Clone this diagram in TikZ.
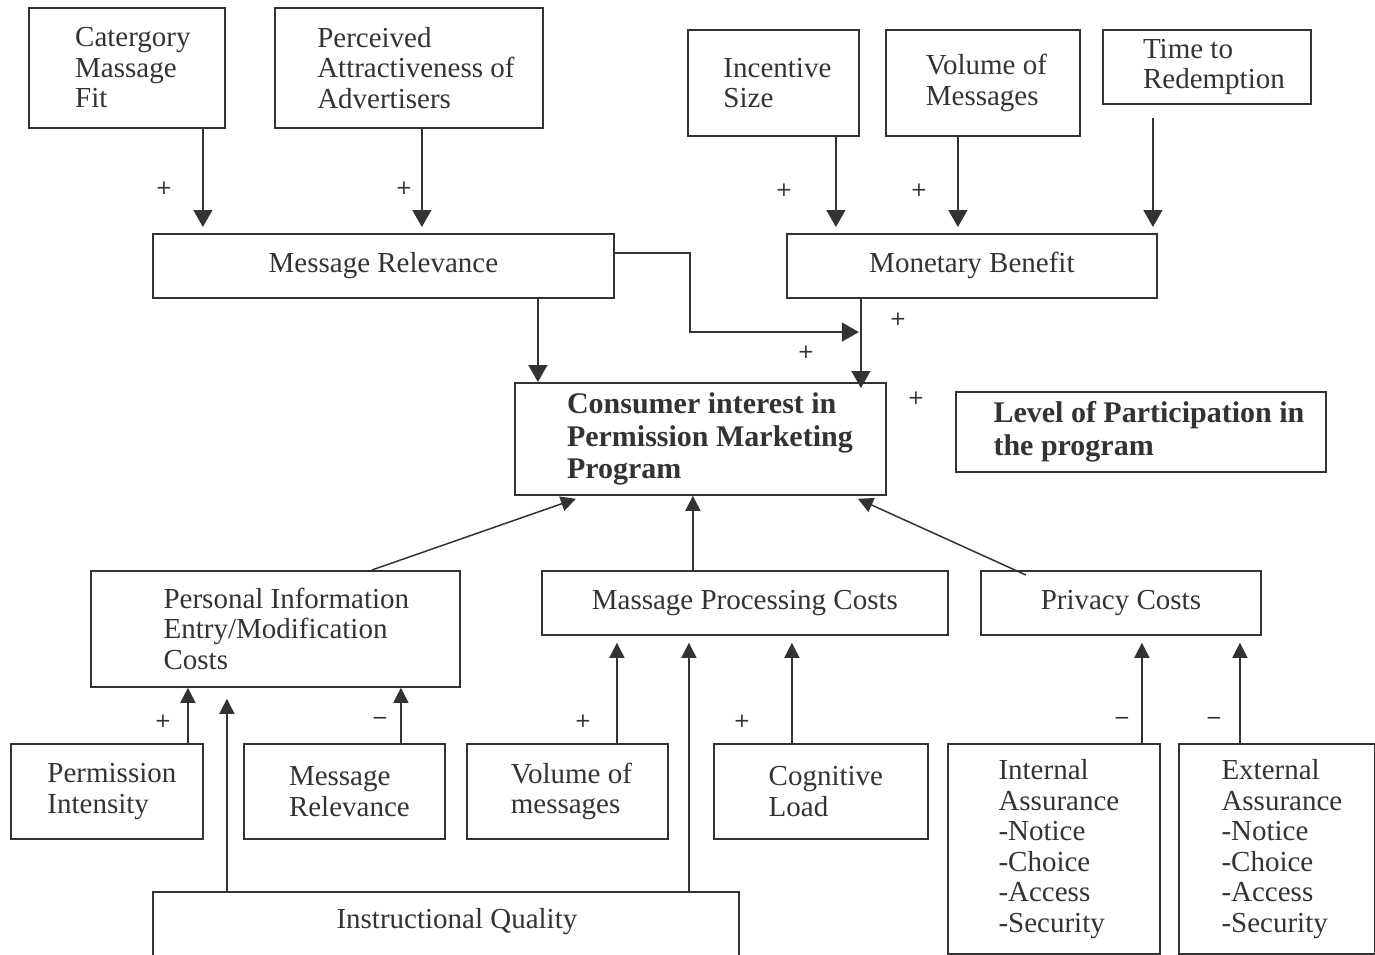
\documentclass[tikz,border=0pt]{standalone}
\usepackage{fontspec}
\setmainfont{Liberation Serif}
\newfontfamily\signfont{DejaVu Sans}
\usepackage{xcolor}
\usepackage{tikz}
\usetikzlibrary{arrows.meta,positioning}
\definecolor{ink}{HTML}{333333}
% indent of one text line inside its box
\newcommand{\ind}[1]{\hspace*{#1pt}}

\begin{document}
\begin{tikzpicture}[
    x=1pt, y=-1pt,
    box/.style={rectangle, draw=ink, line width=1.8pt, text=ink, align=left, anchor=north west, inner sep=0pt, font=\fontsize{29}{30.5}\selectfont},
    boldbox/.style={box, font=\fontsize{30}{32.5}\selectfont\bfseries},
    sign/.style={text=ink, inner sep=0pt, font=\signfont\fontsize{20}{20}\selectfont},
    arrow/.style={-{Triangle[length=17pt,width=19pt]}, draw=ink, line width=1.5pt},
    uparrow/.style={-{Triangle[length=15pt,width=15pt]}, draw=ink, line width=1.5pt}
]
\useasboundingbox (0,0) rectangle (1375,955);

% Antecedents of Message Relevance
\node [box, minimum width=196pt, minimum height=120pt] (fit) at (28,7) {\ind{12}Catergory\\\ind{12}Massage\\\ind{12}Fit};
\node [box, minimum width=268pt, minimum height=120pt] (attract) at (274,7) {\ind{14}Perceived\\\ind{14}Attractiveness of\\\ind{14}Advertisers};

% Antecedents of Monetary Benefit
\node [box, minimum width=171pt, minimum height=106pt] (incentive) at (687,29) {\ind{8}Incentive\\\ind{8}Size};
\node [box, minimum width=194pt, minimum height=106pt] (volume) at (885,29) {\ind{7}Volume of\\\ind{7}Messages};
\node [box, minimum width=208pt, minimum height=74pt] (time) at (1102,29) {\ind{14}Time to\\\ind{14}Redemption};

% Benefits
\node [box, minimum width=461pt, minimum height=64pt] (relevance) at (152,233) {Message Relevance};
\node [box, minimum width=370pt, minimum height=64pt] (monetary) at (786,233) {Monetary Benefit};

% Outcomes
\node [boldbox, minimum width=371pt, minimum height=112pt] (interest) at (514,382) {\ind{19}Consumer interest in\\\ind{19}Permission Marketing\\\ind{19}Program};
\node [boldbox, minimum width=370pt, minimum height=80pt] (participation) at (955,391) {\ind{16}Level of Participation in\\\ind{16}the program};

% Costs
\node [box, minimum width=369pt, minimum height=116pt] (personal) at (90,570) {\ind{22}Personal Information\\\ind{22}Entry/Modification\\\ind{22}Costs};
\node [box, minimum width=406pt, minimum height=64pt] (processing) at (541,570) {Massage Processing Costs};
\node [box, minimum width=280pt, minimum height=64pt] (privacy) at (980,570) {Privacy Costs};

% Antecedents of Costs
\node [box, minimum width=192pt, minimum height=95pt] (intensity) at (10,743) {\ind{10}Permission\\\ind{10}Intensity};
\node [box, minimum width=201pt, minimum height=95pt] (relevance2) at (243,743) {\ind{10}Message\\\ind{10}Relevance};
\node [box, minimum width=201pt, minimum height=95pt] (volume2) at (466,743) {\ind{8}Volume of\\\ind{8}messages};
\node [box, minimum width=214pt, minimum height=95pt] (cognitive) at (713,743) {\ind{10}Cognitive\\\ind{10}Load};
\node [box, minimum width=212pt, minimum height=210pt] (internal) at (947,743) {\ind{10}Internal\\\ind{10}Assurance\\\ind{10}-Notice\\\ind{10}-Choice\\\ind{10}-Access\\\ind{10}-Security};
\node [box, minimum width=196pt, minimum height=210pt] (external) at (1178,743) {\ind{10}External\\\ind{10}Assurance\\\ind{10}-Notice\\\ind{10}-Choice\\\ind{10}-Access\\\ind{10}-Security};
\node [box, draw=none, minimum width=584pt, minimum height=58pt] (quality) at (153,892) {\ind{22}Instructional Quality};
\draw [ink, line width=1.8pt] ([yshift=-20pt]quality.south west) -- (quality.north west) -- (quality.north east) -- ([yshift=-20pt]quality.south east);

% Arrows - into Message Relevance
\draw [arrow, shorten >=6pt] ([xshift=76pt]fit.south) -- ([xshift=76pt]fit.south |- relevance.north);
\draw [arrow, shorten >=6pt] ([xshift=13pt]attract.south) -- ([xshift=13pt]attract.south |- relevance.north);

% Arrows - into Monetary Benefit
\draw [arrow, shorten >=6pt] ([xshift=62.5pt]incentive.south) -- ([xshift=62.5pt]incentive.south |- monetary.north);
\draw [arrow, shorten >=6pt] ([xshift=-25pt]volume.south) -- ([xshift=-25pt]volume.south |- monetary.north);
\draw [arrow, shorten <=13pt, shorten >=6pt] ([xshift=-54pt]time.south) -- ([xshift=-54pt]time.south |- monetary.north);

% Arrows - Benefits to Consumer interest
\draw [arrow] ([xshift=154.5pt]relevance.south) -- ([xshift=154.5pt]relevance.south |- interest.north);
\draw [arrow, shorten >=-6pt] ([xshift=-111pt]monetary.south) -- coordinate[pos=0.4] (join) ([xshift=-111pt]monetary.south |- interest.north);
\draw [arrow, shorten >=2pt] ([yshift=13pt]relevance.east) -- ++(75,0) |- (join);

% Arrows - Costs to Consumer interest
\draw [uparrow] ([xshift=96.5pt]personal.north) -- ([xshift=-124.5pt,yshift=-3pt]interest.south);
\draw [uparrow] ([xshift=-52pt]processing.north) -- ([xshift=-52pt]processing.north |- interest.south);
\draw [uparrow] ([xshift=-95pt,yshift=-5pt]privacy.north) -- ([xshift=157.5pt,yshift=-3pt]interest.south);

% Arrows - into Costs
\draw [uparrow] ([xshift=81pt]intensity.north) -- ([xshift=81pt]intensity.north |- personal.south);
\draw [uparrow] ([xshift=56.5pt]relevance2.north) -- ([xshift=56.5pt]relevance2.north |- personal.south);
\draw [uparrow, shorten >=11pt] ([xshift=-219pt]quality.north) -- ([xshift=-219pt]quality.north |- personal.south);
\draw [uparrow, shorten >=7pt] ([xshift=49.5pt]volume2.north) -- ([xshift=49.5pt]volume2.north |- processing.south);
\draw [uparrow, shorten >=7pt] ([xshift=243pt]quality.north) -- ([xshift=243pt]quality.north |- processing.south);
\draw [uparrow, shorten >=7pt] ([xshift=-29pt]cognitive.north) -- ([xshift=-29pt]cognitive.north |- processing.south);
\draw [uparrow, shorten >=7pt] ([xshift=88pt]internal.north) -- ([xshift=88pt]internal.north |- privacy.south);
\draw [uparrow, shorten >=7pt] ([xshift=-37pt]external.north) -- ([xshift=-37pt]external.north |- privacy.south);

% Signs
\node [sign] (s1) at (164,188) {+};
\node [sign] (s2) at (404,188) {+};
\node [sign] (s3) at (784,190) {+};
\node [sign] (s4) at (919,190) {+};
\node [sign] (s5) at (898,319) {+};
\node [sign] (s6) at (806,352) {+};
\node [sign] (s7) at (916,398) {+};
\node [sign] (s8) at (163,721) {+};
\node [sign] (s9) at (380,721) {−};
\node [sign] (s10) at (583,721) {+};
\node [sign] (s11) at (742,721) {+};
\node [sign] (s12) at (1122,721) {−};
\node [sign] (s13) at (1214,721) {−};

\end{tikzpicture}
\end{document}
